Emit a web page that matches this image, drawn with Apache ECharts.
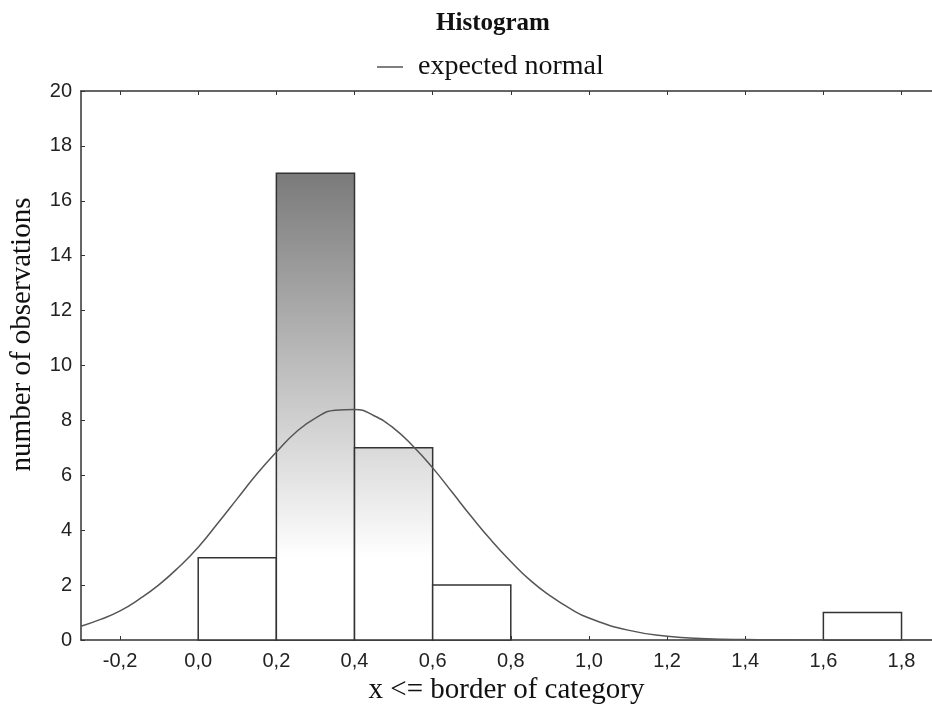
<!DOCTYPE html>
<html>
<head>
<meta charset="utf-8">
<script src="https://cdn.jsdelivr.net/npm/echarts@6/dist/echarts.min.js"></script>
<style>
  html, body { margin: 0; padding: 0; background: #fff; }
  #chart { width: 932px; height: 711px; }
</style>
</head>
<body>
<div id="chart"></div>
<script>
// histogram bins: [lower border, upper border]
const binStarts = [0.0, 0.2, 0.4, 0.6, 1.6];
const binEnds = [0.2, 0.4, 0.6, 0.8, 1.8];
const binCounts = [3, 17, 7, 2, 1];

// expected normal curve
const curveX = [-0.3, -0.25, -0.2, -0.15, -0.1, -0.05, 0.0, 0.05, 0.1, 0.15, 0.2, 0.25, 0.3, 0.35, 0.4, 0.45, 0.5, 0.55, 0.6, 0.65, 0.7, 0.75, 0.8, 0.85, 0.9, 0.95, 1.0, 1.1, 1.2, 1.3, 1.4, 1.5, 1.6, 1.88];
const curveY = [0.5, 0.75, 1.06, 1.5, 2.02, 2.65, 3.38, 4.25, 5.15, 6.05, 6.85, 7.57, 8.08, 8.37, 8.4, 8.17, 7.72, 7.06, 6.27, 5.38, 4.48, 3.63, 2.86, 2.17, 1.62, 1.16, 0.8, 0.36, 0.14, 0.05, 0.015, 0.005, 0, 0];

const xTicks = [-0.2, 0.0, 0.2, 0.4, 0.6, 0.8, 1.0, 1.2, 1.4, 1.6, 1.8];

const serif = "'Liberation Serif', 'DejaVu Serif', serif";
const sans = "'Liberation Sans', Arial, sans-serif";

let chartDom = document.getElementById("chart");
let myChart = echarts.init(chartDom);

// grey level for the top of a bar: dark at 17, white at 3 and below
function barFill(v) {
  if (v <= 3) return "#ffffff";
  let g = Math.round(255 - ((v - 3) / 14) * 133);
  let top = "rgb(" + g + "," + g + "," + g + ")";
  return new echarts.graphic.LinearGradient(0, 0, 0, 1, [
    { offset: 0, color: top },
    { offset: (v - 3) / v, color: "#ffffff" },
    { offset: 1, color: "#ffffff" },
  ]);
}

let fmt = (v) => v.toFixed(1).replace(".", ",");

let option = {
  animation: false,
  backgroundColor: "#fff",
  title: {
    text: "Histogram",
    left: 488,
    textAlign: "center",
    top: 6,
    textStyle: { fontFamily: serif, fontSize: 25, fontWeight: "bold", color: "#111" },
  },
  legend: {
    data: [{ name: "expected normal", icon: "rect" }],
    left: 372,
    top: 48,
    itemWidth: 26,
    itemHeight: 1.5,
    textStyle: { fontFamily: serif, fontSize: 28, color: "#111", padding: [0, 0, 0, 10] },
  },
  grid: { left: 80, right: 0, top: 91, bottom: 71 },
  xAxis: [
    {
      type: "value",
      min: -0.3,
      max: 1.878,
      position: "bottom",
      name: "x <= border of category",
      nameLocation: "middle",
      nameGap: 32,
      nameTextStyle: { fontFamily: serif, fontSize: 29, color: "#111" },
      axisLine: { show: true, onZero: false, lineStyle: { color: "#333", width: 1.5 } },
      axisTick: { show: true, inside: true, length: 4, customValues: xTicks, lineStyle: { color: "#333" } },
      axisLabel: {
        customValues: xTicks,
        formatter: fmt,
        margin: 11,
        fontFamily: sans,
        fontSize: 20,
        color: "#222",
      },
      splitLine: { show: false },
    },
    {
      type: "value",
      min: -0.3,
      max: 1.878,
      position: "top",
      axisLine: { show: true, onZero: false, lineStyle: { color: "#333", width: 1.5 } },
      axisTick: { show: true, inside: true, length: 4, customValues: xTicks, lineStyle: { color: "#333" } },
      axisLabel: { show: false },
      splitLine: { show: false },
    },
  ],
  yAxis: {
    type: "value",
    min: 0,
    max: 20,
    interval: 2,
    name: "number of observations",
    nameLocation: "middle",
    nameGap: 44,
    nameTextStyle: { fontFamily: serif, fontSize: 29, color: "#111", padding: [0, 0, 0, 62] },
    axisLine: { show: true, onZero: false, lineStyle: { color: "#333", width: 1.5 } },
    axisTick: { show: true, inside: true, length: 4, lineStyle: { color: "#333" } },
    axisLabel: { margin: 9, fontFamily: sans, fontSize: 20, color: "#222" },
    splitLine: { show: false },
  },
  series: [
    {
      name: "bins",
      type: "custom",
      data: binCounts.map((c, i) => [binStarts[i], binEnds[i], c]),
      renderItem: function (params, api) {
        let p0 = api.coord([api.value(0), api.value(2)]);
        let p1 = api.coord([api.value(1), 0]);
        return {
          type: "rect",
          shape: { x: p0[0], y: p0[1], width: p1[0] - p0[0], height: p1[1] - p0[1] },
          style: { fill: barFill(api.value(2)), stroke: "#333", lineWidth: 1.5 },
        };
      },
      encode: { x: [0, 1], y: 2 },
      z: 2,
    },
    {
      name: "expected normal",
      type: "line",
      data: curveX.map((x, i) => [x, curveY[i]]),
      smooth: 0.5,
      showSymbol: false,
      symbol: "none",
      lineStyle: { color: "#555", width: 1.5 },
      itemStyle: { color: "#555" },
      z: 3,
    },
  ],
};

option && myChart.setOption(option);
</script>
</body>
</html>
